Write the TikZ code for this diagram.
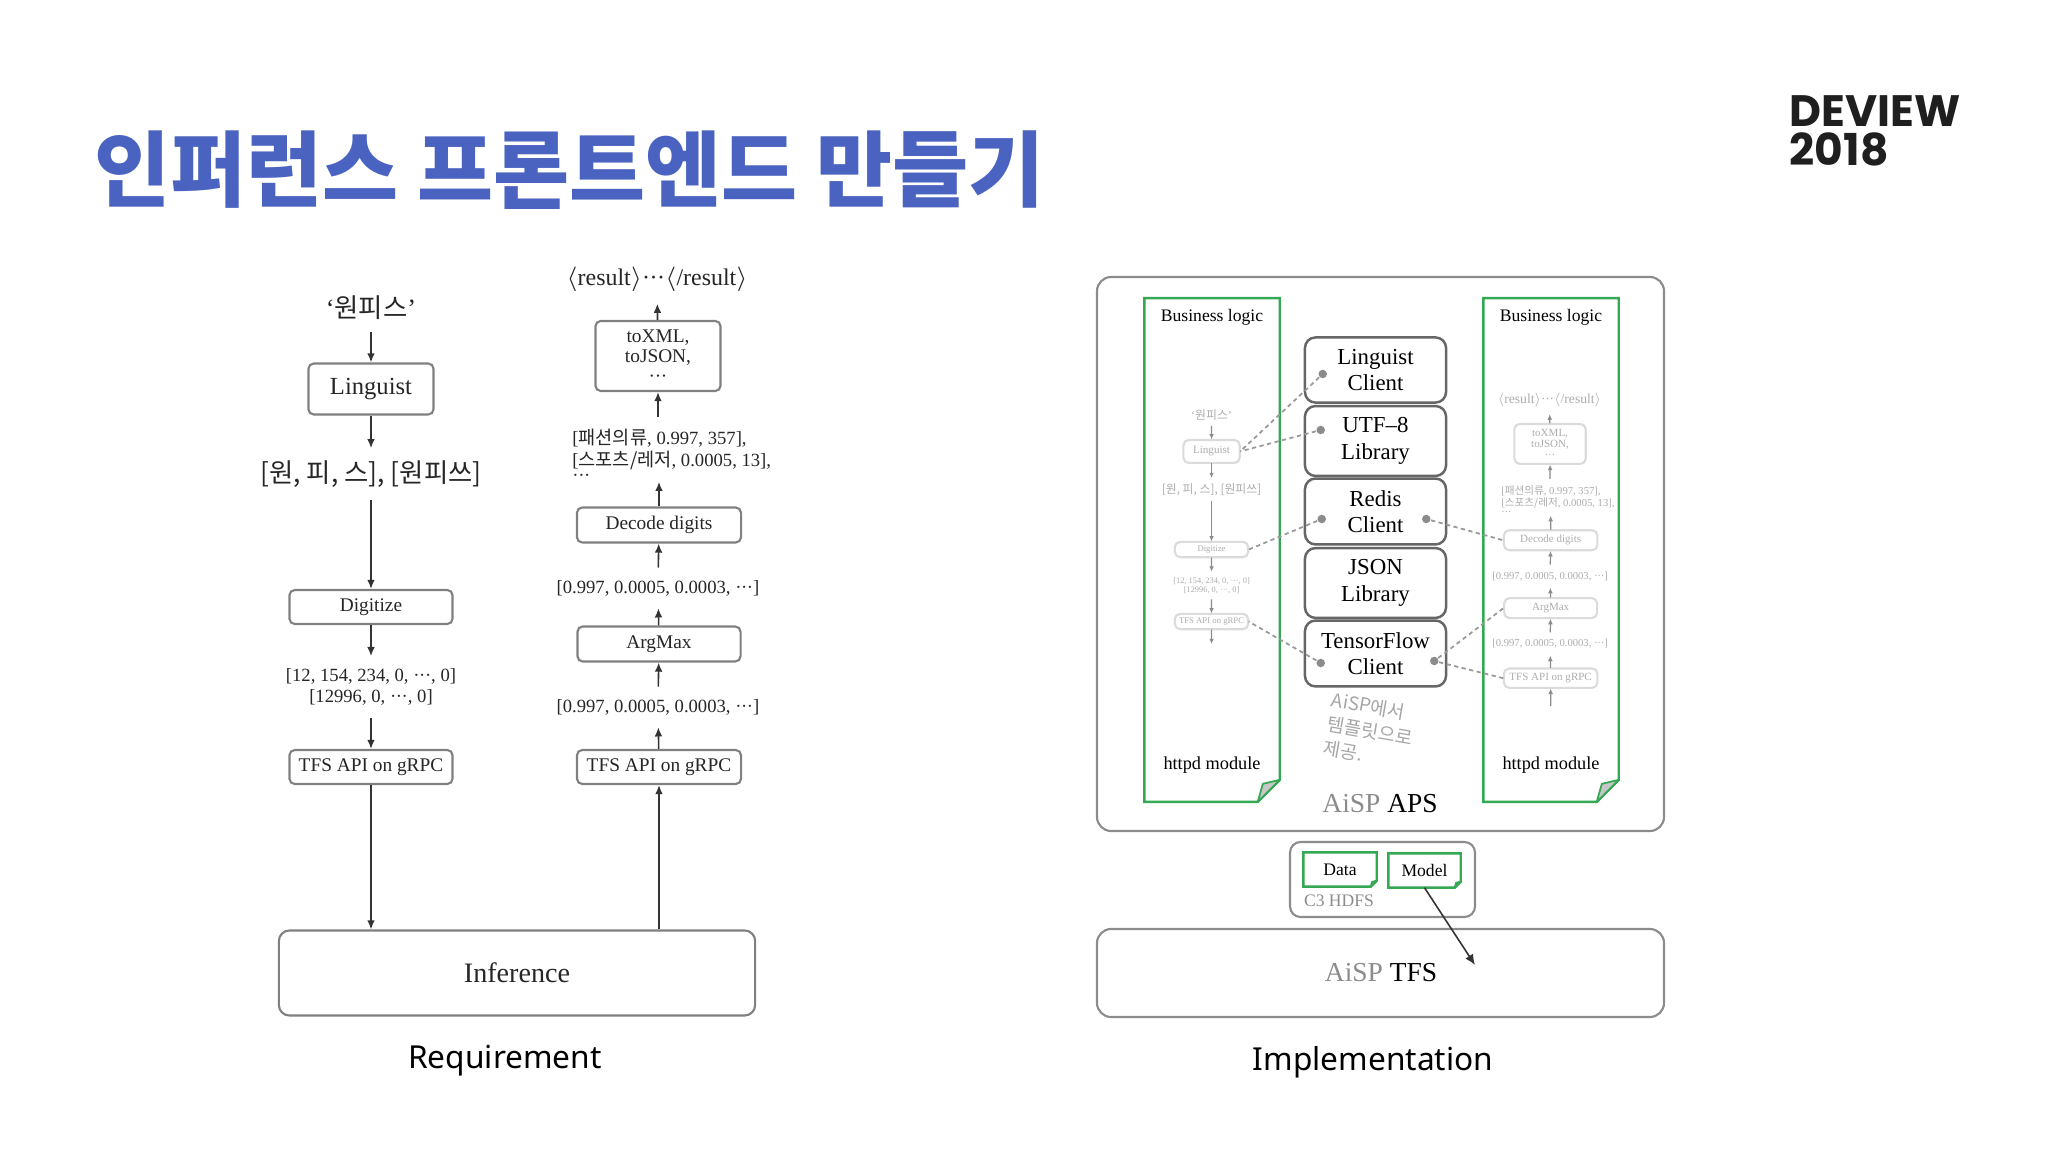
\documentclass[tikz,border=0pt]{standalone}
\usepackage{fontspec}
\setmainfont{Liberation Serif}
\newfontfamily\kr{Noto Sans CJK KR}
\newfontfamily\sans{Noto Sans}
\newfontfamily\deview{Poppins}
\usetikzlibrary{arrows.meta,positioning,calc}
\definecolor{titleblue}{RGB}{74,99,192}
\definecolor{docgreen}{RGB}{52,168,83}
\colorlet{flowtxt}{black!85}
\colorlet{flowline}{black!50}
\colorlet{flowarrc}{black!80}
\newcommand{\setfs}[2]{\fontsize{#1}{#2}\selectfont}
\newcommand{\dotsc}{·\kern-0.02em·\kern-0.02em·}

\newcommand{\reqflow}[1]{%
  \node[word] (#1ws) at (371,308) {‘{\kr 원피스}’};
  \node[flowbox, minimum width=1.25cm, minimum height=0.51cm, font=\setfs{7}{8}] (#1lng) at (371,389) {Linguist};
  \node[word] (#1tok) at (371,474) {{\kr [원, 피, 스], [원피쓰]}};
  \node[flowbox, minimum width=1.63cm, minimum height=0.34cm] (#1dig) at (371,607) {Digitize};
  \node[small, align=center] (#1ids) at (371,687) {[12, 154, 234, 0, \dotsc, 0]\\{[}12996, 0, \dotsc, 0]};
  \node[flowbox, minimum width=1.63cm, minimum height=0.34cm] (#1tfs) at (371,767) {TFS API on gRPC};
  \foreach \a/\b in {ws/lng, lng/tok, tok/dig, dig/ids, ids/tfs}
    \draw[flowarr] (#1\a) -- (#1\b);
}
\newcommand{\resflow}[1]{%
  \node[font=\setfs{6.8}{8}, text=flowtxt] (#1res) at (657,279) {$\langle$result$\rangle$\dotsc$\langle$/result$\rangle$};
  \node[flowbox, minimum width=1.25cm, minimum height=0.70cm, align=center, font=\setfs{5.5}{5.6}] (#1xml) at (658,356) {toXML,\\toJSON,\\\dotsc};
  \node[small, align=left, anchor=west] (#1lst) at (560,449.5) {[{\kr 패션의류}, 0.997, 357],\\{[}{\kr 스포츠/레저}, 0.0005, 13],};
  \node[small, anchor=west] (#1lsd) at (560,478) {\dotsc};
  \node[flowbox, minimum width=1.64cm, minimum height=0.35cm] (#1dec) at (659,525) {Decode digits};
  \node[small] (#1pa) at (658,588) {[0.997, 0.0005, 0.0003, \dotsc]};
  \node[flowbox, minimum width=1.63cm, minimum height=0.35cm] (#1arg) at (659,644) {ArgMax};
  \node[small] (#1pb) at (658,707) {[0.997, 0.0005, 0.0003, \dotsc]};
  \node[flowbox, minimum width=1.64cm, minimum height=0.34cm] (#1tfs) at (659,767) {TFS API on gRPC};
  \foreach \a/\b in {tfs/pb, pb/arg, arg/pa, pa/dec, xml/res}
    \draw[flowarr] (#1\a) -- (#1\b);
  \draw[flowarr] (#1dec) -- (#1dec |- #1lst.south);
  \draw[flowarr] (#1lst.north -| #1xml) -- (#1xml);
}

\begin{document}
\begin{tikzpicture}[x=0.01cm, y=-0.01cm,
  flowbox/.style={draw=flowline, text=flowtxt, line width=0.6pt, rounded corners=1.5pt, font=\setfs{5.5}{6.5}, inner sep=1pt},
  word/.style={text=flowtxt, font=\setfs{7.5}{9}},
  small/.style={text=flowtxt, font=\setfs{5.3}{6}},
  flowarr/.style={draw=flowarrc, line width=0.45pt, -{Latex[length=2.6pt,width=2.2pt]}},
  libbox/.style={draw=black!60, line width=0.7pt, rounded corners=3pt, minimum width=1.41cm, minimum height=0.63cm, align=center, font=\setfs{6.5}{7.5}},
  dot/.style={circle, fill=black!45, inner sep=0pt, minimum size=0.085cm},
  link/.style={draw=black!40, line width=0.5pt, dash pattern=on 1.2pt off 1pt},
  docline/.style={draw=docgreen, line width=0.7pt},
  fold/.style={draw=docgreen, fill=black!22, line width=0.5pt, line join=round},
  panel/.style={draw=black!45, line width=0.6pt, rounded corners=4pt},
  note/.style={font=\kr\setfs{5.3}{7}, text=black!35, rotate=-10, align=left}]
\fill[white] (0,0) rectangle (2048,1152);
\useasboundingbox (0,0) rectangle (2048,1152);

\node[anchor=west, inner sep=0pt, font=\kr\bfseries\setfs{23.5}{27}, text=titleblue] (title) at (94,170) {인퍼런스 프론트엔드 만들기};
\node[anchor=west, align=left, inner sep=0pt, font=\deview\bfseries\setfs{12.5}{11}, text=black!88] (logo) at (1789,131) {DEVIEW\\2018};

\reqflow{l}
\resflow{r}
\node[flowbox, minimum width=4.76cm, minimum height=0.85cm, rounded corners=3pt, font=\setfs{8}{9}] (inf) at (517,973) {Inference};
\draw[flowarr] (ltfs) -- (ltfs |- inf.north);
\draw[flowarr] (inf.north -| rtfs) -- (rtfs);
\node[font=\sans\setfs{9}{11}] (reqlbl) at (505,1061) {Requirement};

\draw[panel] (1097,277) rectangle (1664,831);
\draw[panel] (1097,929) rectangle (1664,1017);
\draw[panel, rounded corners=3pt] (1290,842) rectangle (1475,917);
\node[inner sep=0pt, minimum width=1.34cm, minimum height=5.02cm] (bl) at (1212,550) {};
\node[inner sep=0pt, minimum width=1.34cm, minimum height=5.02cm] (br) at (1551,550) {};
\node[inner sep=0pt, minimum width=0.72cm, minimum height=0.33cm, font=\setfs{5}{6}] (data) at (1340,869.5) {Data};
\node[inner sep=0pt, minimum width=0.71cm, minimum height=0.33cm, font=\setfs{5}{6}] (model) at (1424.5,870.5) {Model};
\foreach \n/\f in {bl/22, br/22, data/6, model/6}{
  \draw[docline] (\n.north west) -- (\n.north east) -- ($(\n.south east)+(0,-\f)$) -- ($(\n.south east)+(-\f,0)$) -- (\n.south west) -- cycle;
  \filldraw[fold] ($(\n.south east)+(-\f,0)$) -- ($(\n.south east)+(0,-\f)$) -- ($(\n.south east)+(-0.77*\f,-0.82*\f)$) -- cycle;
}
\foreach \n/\x in {l/1212, r/1551}{
  \node[font=\setfs{5}{6}] (\n biz) at (\x,317) {Business logic};
  \node[font=\setfs{5.2}{6}] (\n httpd) at (\x,765) {httpd module};
}

\begin{scope}[shift={(1044.6,276.4)}, scale=0.45, transform shape,
  flowarr/.style={draw=flowarrc, line width=0.35pt, -{Latex[length=1.5pt,width=1.3pt]}}]
  \colorlet{flowtxt}{black!32}\colorlet{flowline}{black!14}\colorlet{flowarrc}{black!45}
  \reqflow{ml}
  \coordinate (mlout) at (371,817);
  \draw[flowarr] (mltfs) -- (mlout);
\end{scope}
\begin{scope}[shift={(1175,241)}, scale=0.57, transform shape,
  flowarr/.style={draw=flowarrc, line width=0.35pt, -{Latex[length=1.6pt,width=1.4pt]}}]
  \colorlet{flowtxt}{black!32}\colorlet{flowline}{black!14}\colorlet{flowarrc}{black!45}
  \resflow{mr}
  \coordinate (mrin) at (659,816);
  \draw[flowarr] (mrin) -- (mrtfs);
\end{scope}

\foreach \n/\t/\y in {lc/{Linguist\\Client}/370, utf/{UTF--8\\Library}/441, rc/{Redis\\Client}/511.5, json/{JSON\\Library}/583, tf/{TensorFlow\\Client}/653.5}
  \node[libbox] (\n) at (1375.5,\y) {\t};
\node[dot] (lcdot) at ($(lc.west)+(19,4)$) {};
\node[dot] (utfdot) at ($(utf.west)+(17,-11)$) {};
\node[dot] (rcl) at ($(rc.west)+(18,7.5)$) {};
\node[dot] (rcr) at ($(rc.east)+(-21,7.5)$) {};
\node[dot] (tfl) at ($(tf.west)+(17,9.5)$) {};
\node[dot] (tfr) at ($(tf.east)+(-13,7.5)$) {};
\draw[link] (lcdot) -- (mllng.east);
\draw[link] (utfdot) -- (mllng.east);
\draw[link] (rcl) -- (mldig.east);
\draw[link] (tfl) -- (mltfs.east);
\draw[link] (rcr) -- (mrdec.west);
\draw[link] (tfr) -- (mrarg.west);
\draw[link] (tfr) -- (mrtfs.west);

\node[note] (tmpl) at (1370,731) {AiSP에서\\템플릿으로\\제공.};
\node[font=\setfs{7.8}{9}] (aps) at (1380,804) {\textcolor{black!45}{AiSP} APS};
\node[font=\setfs{5}{6}, text=black!45] (hdfs) at (1339,901) {C3 HDFS};
\node[font=\setfs{7.8}{9}] (tfs) at (1381,973) {\textcolor{black!45}{AiSP} TFS};
\coordinate (tfsin) at (1475,965);
\draw[-{Latex[length=3pt,width=2.6pt]}, line width=0.45pt, black!80] (model.south) -- (tfsin);
\node[font=\sans\setfs{9}{11}] (impllbl) at (1373,1062) {Implementation};
\end{tikzpicture}
\end{document}
